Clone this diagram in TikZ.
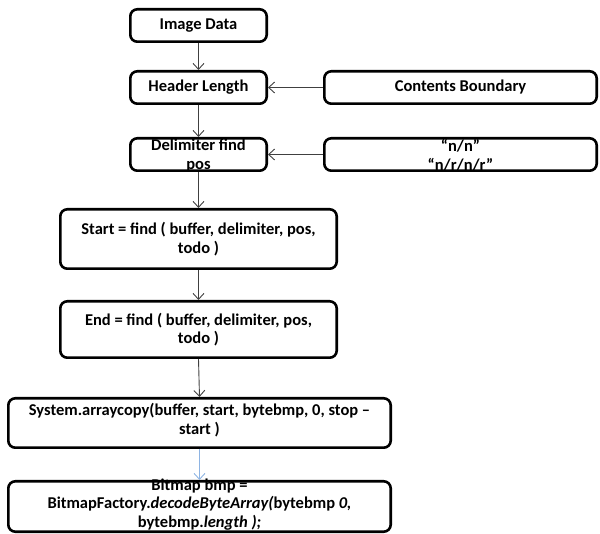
\documentclass[tikz,border=0pt]{standalone}
\usepackage{fontspec}
\setmainfont{Carlito}
\usetikzlibrary{arrows.meta}
\definecolor{lineg}{HTML}{404040}
\definecolor{lblue}{HTML}{8EB4E3}
\tikzset{
  box/.style={draw=black, line width=2.6pt, rounded corners=7pt, fill=white, inner sep=0pt},
  txt/.style={font=\bfseries\fontsize{16.5}{18.5}\selectfont, align=center, inner sep=0pt},
  conn/.style={draw=lineg, line width=0.9pt, -{Straight Barb[length=6pt,width=11pt,line width=0.9pt]}}
}
\begin{document}
\begin{tikzpicture}[x=1pt,y=-1pt]
\useasboundingbox (0,0) rectangle (600,534);
% boxes
\node[box, minimum width=136.4pt, minimum height=32.4pt] (img) at (198.5,25.5) {};
\node[box, minimum width=136.4pt, minimum height=32.4pt] (hdr) at (198.5,87.5) {};
\node[box, minimum width=272.4pt, minimum height=32.4pt] (cb) at (460.5,87.5) {};
\node[box, minimum width=136.4pt, minimum height=32.4pt] (del) at (198.5,154.5) {};
\node[box, minimum width=272.4pt, minimum height=32.4pt] (nn) at (460.5,154.5) {};
\node[box, minimum width=276.4pt, minimum height=59.4pt] (st) at (198.5,239) {};
\node[box, minimum width=276.4pt, minimum height=56.4pt] (en) at (198.5,329.5) {};
\node[box, minimum width=382.4pt, minimum height=49.4pt] (sys) at (199.5,423) {};
\node[box, minimum width=382.4pt, minimum height=50.4pt] (bmp) at (199.5,506.5) {};
% texts
\node[txt] (imgt) at (img) {Image Data};
\node[txt] (hdrt) at (hdr) {Header Length};
\node[txt] (cbt) at (cb) {Contents Boundary};
\node[txt] (delt) at ([yshift=-1pt]del.center) {Delimiter find\\pos};
\node[txt] (nnt) at ([yshift=-1pt]nn.center) {“n/n”\\“n/r/n/r”};
\node[txt] (stt) at (st) {Start = find ( buffer, delimiter, pos,\\todo )};
\node[txt] (ent) at (en) {End = find ( buffer, delimiter, pos,\\todo )};
\node[txt] (syst) at ([yshift=3pt]sys.center) {System.arraycopy(buffer, start, bytebmp, 0, stop –\\start )};
\node[txt] (bmpt) at ([yshift=2pt]bmp.center) {Bitmap bmp =\\BitmapFactory.\textit{decodeByteArray(}bytebmp \textit{0,}\\bytebmp.\textit{length );}};
% connectors
\draw[conn] (img.south) -- (hdr.north);
\draw[conn] (cb.west) -- (hdr.east);
\draw[conn] (hdr.south) -- (del.north);
\draw[conn] (nn.west) -- (del.east);
\draw[conn] (del.south) -- (st.north);
\draw[conn] (st.south) -- (en.north);
\draw[conn] (en.south) -- (sys.north);
\draw[conn, draw=lblue] (sys.south) -- (bmp.north);
\end{tikzpicture}
\end{document}
